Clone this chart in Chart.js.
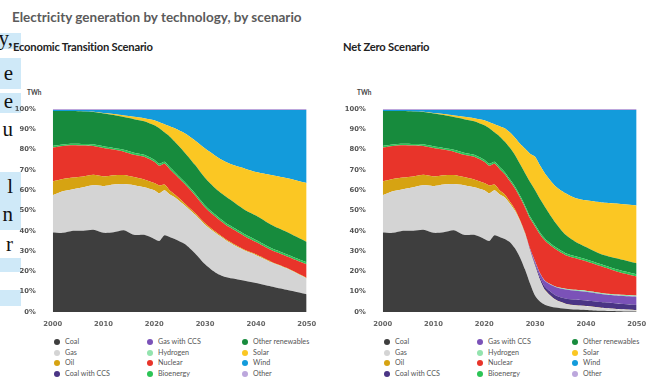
<!DOCTYPE html>
<html>
<head>
<meta charset="utf-8">
<script src="https://cdn.jsdelivr.net/npm/chart.js@4"></script>
<style>
  body { margin: 0; width: 649px; height: 379px; position: relative; background: #fff; overflow: hidden; font-family: Lato, "Open Sans", sans-serif; }
  .abs { position: absolute; white-space: nowrap; }
  .title { left: 12px; top: 9px; font-size: 13.5px; font-weight: 700; color: #5b5b5b; }
  .sub { top: 40px; font-size: 11.2px; font-weight: 700; color: #222; letter-spacing: -0.2px; }
  .twh { top: 89px; font-size: 6.5px; font-weight: 700; color: #444; }
  .hl { position: absolute; left: 0; width: 21px; background: #cfe9f8; }
  .ltr { position: absolute; right: 636px; font-family: "Liberation Serif", "DejaVu Serif", serif; font-size: 21px; color: #111; line-height: 1; }
  .wrap { position: absolute; top: 95px; width: 305px; height: 240px; }
  .legend { position: absolute; top: 337px; font-size: 7.2px; color: #555; }
  .item { position: absolute; white-space: nowrap; line-height: 8px; }
  .dot { display: inline-block; width: 6px; height: 6px; border-radius: 50%; vertical-align: -1px; margin-right: 5px; }
</style>
</head>
<body>
<div class="hl" style="top:33px;height:16px"></div>
<div class="hl" style="top:58px;height:31px"></div>
<div class="hl" style="top:93px;height:20px"></div>
<div class="hl" style="top:172px;height:58px"></div>
<div class="hl" style="top:258px;height:14px"></div>
<div class="hl" style="top:290px;height:16px"></div>
<div class="ltr" style="top:28px">y,</div>
<div class="ltr" style="top:63px">e</div>
<div class="ltr" style="top:91px">e</div>
<div class="ltr" style="top:119px">u</div>
<div class="ltr" style="top:176px">l</div>
<div class="ltr" style="top:204px">n</div>
<div class="ltr" style="top:234px">r</div>

<div class="abs title">Electricity generation by technology, by scenario</div>
<div class="abs sub" style="left:13px">Economic Transition Scenario</div>
<div class="abs sub" style="left:343px">Net Zero Scenario</div>
<div class="abs twh" style="left:27px">TWh</div>
<div class="abs twh" style="left:357px">TWh</div>
<div class="wrap" style="left:15px"><canvas id="ets" width="305" height="240"></canvas></div>
<div class="wrap" style="left:345px"><canvas id="nz" width="304" height="240"></canvas></div>
<div class="legend" id="legEts" style="left:0"></div>
<div class="legend" id="legNz" style="left:330px"></div>

<script>
const techNames = ["Coal", "Gas", "Oil", "Coal with CCS", "Gas with CCS", "Hydrogen",
  "Nuclear", "Bioenergy", "Other renewables", "Solar", "Wind", "Other"];
const techColors = ["#3e3e3e", "#d4d4d4", "#d6a312", "#4a3585", "#7b52b8", "#93e3ae",
  "#e8342a", "#2cc456", "#178b3d", "#fbc723", "#139bdb", "#bca7dc"];

// shares of generation, %, history common to both scenarios
const histYears = [2000, 2002, 2004, 2006, 2008, 2010, 2012, 2014, 2016, 2018, 2020, 2021, 2022, 2023, 2024];
const histCoal = [39.2, 39.0, 40.0, 40.0, 40.5, 39.0, 39.3, 40.3, 38.0, 38.0, 36.0, 35.0, 37.8, 37.0, 36.0];
const histGas = [18.3, 20.5, 20.5, 21.5, 22.0, 23.0, 23.5, 22.7, 24.5, 23.5, 24.0, 23.5, 22.2, 21.0, 20.5];
const histOil = [6.8, 6.0, 5.7, 5.3, 5.1, 4.8, 4.6, 4.5, 4.0, 3.8, 3.5, 3.8, 2.8, 2.0, 1.5];
const histCoalCcs = [0, 0, 0, 0, 0, 0, 0, 0, 0, 0, 0, 0, 0, 0, 0];
const histGasCcs = [0, 0, 0, 0, 0, 0, 0, 0, 0, 0, 0, 0, 0, 0, 0];
const histHydrogen = [0, 0, 0, 0, 0, 0, 0, 0, 0, 0, 0, 0, 0, 0, 0];
const histNuclear = [16.7, 16.3, 16.0, 15.2, 14.2, 14.0, 12.6, 11.5, 11.0, 11.2, 10.5, 9.7, 10.2, 10.5, 10.0];
const histBio = [0.8, 0.7, 0.7, 0.8, 0.8, 0.8, 0.8, 0.9, 1.0, 1.0, 1.0, 1.0, 1.0, 1.0, 1.0];
const histOtherRen = [17.2, 16.5, 16.1, 16.0, 15.9, 16.2, 16.2, 16.1, 16.5, 16.5, 17.0, 17.5, 14.5, 15.0, 15.0];
const histSolar = [0, 0, 0, 0, 0.1, 0.2, 0.5, 0.8, 1.2, 1.5, 2.5, 3.0, 4.0, 5.0, 6.5];
const histWind = [0.5, 0.5, 0.5, 0.7, 0.9, 1.5, 2.0, 2.7, 3.3, 4.0, 5.0, 6.0, 7.0, 8.0, 9.0];
const histOther = [0.5, 0.5, 0.5, 0.5, 0.5, 0.5, 0.5, 0.5, 0.5, 0.5, 0.5, 0.5, 0.5, 0.5, 0.5];

// Economic Transition Scenario
const etsYears = [2026, 2028, 2030, 2032, 2034, 2036, 2038, 2040, 2043, 2046, 2050];
const etsCoal = [33.5, 29.0, 23.5, 19.5, 17.2, 16.2, 15.3, 14.3, 12.6, 11.0, 8.8];
const etsGas = [19.0, 19.0, 19.5, 19.5, 18.3, 16.3, 14.7, 13.7, 11.9, 10.5, 7.7];
const etsOil = [1.0, 0.8, 0.7, 0.6, 0.5, 0.5, 0.4, 0.4, 0.3, 0.3, 0.3];
const etsCoalCcs = [0, 0, 0, 0, 0, 0, 0, 0, 0, 0, 0];
const etsGasCcs = [0, 0, 0, 0, 0, 0, 0, 0, 0, 0, 0];
const etsHydrogen = [0, 0, 0, 0, 0, 0, 0, 0, 0, 0, 0];
const etsNuclear = [9.5, 8.7, 7.8, 7.4, 7.0, 7.0, 6.6, 6.1, 5.7, 5.7, 6.7];
const etsBio = [1.0, 1.0, 1.0, 1.0, 1.0, 1.0, 1.0, 1.0, 1.0, 1.0, 1.0];
const etsOtherRen = [14.5, 14.0, 13.5, 13.0, 13.0, 12.5, 12.0, 12.0, 11.5, 11.0, 10.0];
const etsSolar = [9.5, 12.0, 14.5, 16.0, 17.0, 18.5, 20.5, 21.5, 24.5, 26.5, 29.0];
const etsWind = [11.5, 15.0, 19.0, 22.5, 25.5, 27.5, 29.0, 30.5, 32.0, 33.5, 36.0];
const etsOther = [0.5, 0.5, 0.5, 0.5, 0.5, 0.5, 0.5, 0.5, 0.5, 0.5, 0.5];

// Net Zero Scenario
const nzYears = [2025, 2026, 2027, 2028, 2029, 2030, 2031, 2032, 2034, 2036, 2038, 2040, 2043, 2046, 2050];
const nzCoal = [34.5, 31.5, 27.0, 21.0, 14.0, 8.0, 5.0, 3.5, 2.2, 1.6, 1.2, 1.0, 0.6, 0.4, 0.2];
const nzGas = [19.0, 18.5, 18.0, 17.5, 16.0, 14.5, 10.5, 7.0, 3.8, 2.4, 2.0, 1.8, 1.4, 1.0, 0.7];
const nzOil = [1.0, 0.7, 0.5, 0.5, 0.3, 0.3, 0.2, 0.2, 0.1, 0.1, 0.1, 0.1, 0.1, 0.1, 0.1];
const nzCoalCcs = [0, 0, 0, 0.1, 0.4, 0.8, 1.2, 1.6, 2.2, 2.5, 2.7, 2.8, 2.8, 2.7, 2.5];
const nzGasCcs = [0, 0, 0, 0.2, 0.6, 1.2, 2.0, 2.8, 4.0, 4.5, 4.5, 4.3, 4.0, 3.9, 4.0];
const nzHydrogen = [0, 0, 0, 0, 0, 0.1, 0.1, 0.2, 0.3, 0.4, 0.4, 0.5, 0.5, 0.5, 0.6];
const nzNuclear = [10.0, 10.3, 11.0, 12.2, 14.7, 17.1, 19.0, 19.7, 18.4, 16.5, 15.6, 14.5, 13.1, 11.4, 9.4];
const nzBio = [1.0, 1.0, 1.0, 1.0, 1.0, 1.0, 1.0, 1.0, 1.0, 1.0, 1.0, 1.0, 1.0, 1.0, 1.0];
const nzOtherRen = [15.5, 15.5, 15.5, 16.0, 17.0, 17.0, 16.5, 15.5, 12.0, 9.0, 7.0, 6.0, 5.0, 5.5, 5.5];
const nzSolar = [7.5, 8.5, 10.0, 12.0, 14.0, 16.5, 16.5, 16.5, 18.0, 20.5, 21.5, 23.0, 25.5, 27.0, 28.5];
const nzWind = [11.0, 13.5, 16.5, 19.0, 21.5, 23.0, 27.5, 31.5, 37.5, 41.0, 43.5, 44.5, 45.5, 46.0, 47.0];
const nzOther = [0.5, 0.5, 0.5, 0.5, 0.5, 0.5, 0.5, 0.5, 0.5, 0.5, 0.5, 0.5, 0.5, 0.5, 0.5];

const xTicks = [2000, 2010, 2020, 2030, 2040, 2050];
const yTicks = [0, 10, 20, 30, 40, 50, 60, 70, 80, 90, 100];

const hist = [histCoal, histGas, histOil, histCoalCcs, histGasCcs, histHydrogen,
  histNuclear, histBio, histOtherRen, histSolar, histWind, histOther];
const ets = [etsCoal, etsGas, etsOil, etsCoalCcs, etsGasCcs, etsHydrogen,
  etsNuclear, etsBio, etsOtherRen, etsSolar, etsWind, etsOther];
const nz = [nzCoal, nzGas, nzOil, nzCoalCcs, nzGasCcs, nzHydrogen,
  nzNuclear, nzBio, nzOtherRen, nzSolar, nzWind, nzOther];

function makeChart(id, futYears, fut, rightPad) {
  const years = histYears.concat(futYears);
  const datasets = techNames.map((name, i) => {
    const vals = hist[i].concat(fut[i]);
    return {
      label: name,
      data: years.map((yr, j) => ({ x: yr, y: vals[j] })),
      backgroundColor: techColors[i],
      borderColor: techColors[i],
      borderWidth: 0,
      pointRadius: 0,
      fill: i === 0 ? "origin" : "-1",
      tension: 0.25,
    };
  });
  const tickFont = { family: "DejaVu Sans", size: 6.8, weight: "bold" };
  return new Chart(document.getElementById(id), {
    type: "line",
    data: { datasets },
    options: {
      responsive: false,
      animation: false,
      layout: { padding: { top: 14, right: rightPad, left: 0, bottom: 0 } },
      plugins: { legend: { display: false }, tooltip: { enabled: false } },
      scales: {
        x: {
          type: "linear",
          min: 2000,
          max: 2050,
          grid: { display: false },
          border: { display: false },
          afterBuildTicks: (s) => { s.ticks = xTicks.map((v) => ({ value: v })); },
          afterFit: (s) => { s.height = 23; },
          ticks: { color: "#666", font: tickFont, padding: 0, maxRotation: 0, callback: (v) => String(v) },
        },
        y: {
          stacked: true,
          min: 0,
          max: 100,
          grid: { display: false },
          border: { display: false },
          afterBuildTicks: (s) => { s.ticks = yTicks.map((v) => ({ value: v })); },
          afterFit: (s) => { s.width = 37.7; },
          ticks: { color: "#555", font: tickFont, padding: 9, callback: (v) => v + "%" },
        },
      },
    },
  });
}

makeChart("ets", etsYears, ets, 13.3);
makeChart("nz", nzYears, nz, 12.3);

// legend, column by column like the original
const legCols = [57, 150, 245];
const legRows = [1, 11.5, 22, 32.5];
function makeLegend(id) {
  const el = document.getElementById(id);
  techNames.forEach((name, i) => {
    const d = document.createElement("div");
    d.className = "item";
    d.style.left = (legCols[Math.floor(i / 4)] - 3) + "px";
    d.style.top = legRows[i % 4] + "px";
    d.innerHTML = '<span class="dot" style="background:' + techColors[i] + '"></span>' + name;
    el.appendChild(d);
  });
}
makeLegend("legEts");
makeLegend("legNz");
</script>
</body>
</html>
